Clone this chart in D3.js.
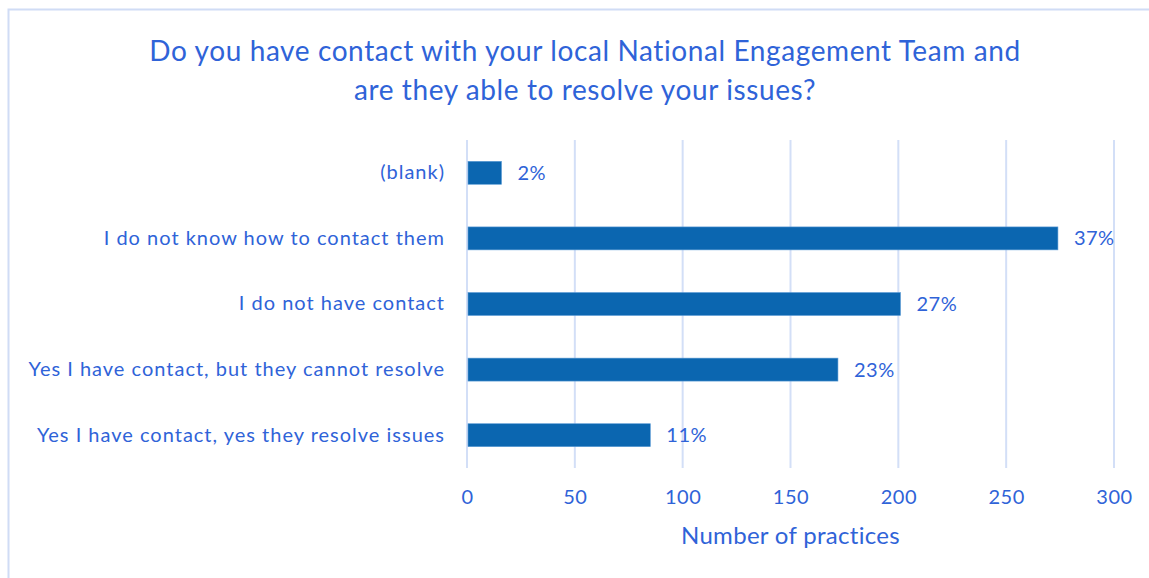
<!DOCTYPE html>
<html>
<head>
<meta charset="utf-8">
<script src="https://cdn.jsdelivr.net/npm/d3@7"></script>
<style>
  html, body { margin: 0; padding: 0; background: #fff; }
  svg { display: block; }
  text { font-family: Lato, "Open Sans", sans-serif; }
</style>
</head>
<body>
<svg id="chart" width="1149" height="578"></svg>
<script>
const categories = [
  "(blank)",
  "I do not know how to contact them",
  "I do not have contact",
  "Yes I have contact, but they cannot resolve",
  "Yes I have contact, yes they resolve issues"
];
const values = [16, 274, 201, 172, 85];
const percentLabels = ["2%", "37%", "27%", "23%", "11%"];
const xTicks = [0, 50, 100, 150, 200, 250, 300];
const titleLines = ["Do you have contact with your local National Engagement Team and", "are they able to resolve your issues?"];
const xAxisTitle = "Number of practices";

(function () {
const textColor = "#2F63D8";
const barColor = "#0B66B0";
const gridColor = "#D3DFF7";

const svg = d3.select("#chart");

// outer border
svg.append("rect")
  .attr("x", 8.5).attr("y", 9.5)
  .attr("width", 1160).attr("height", 600)
  .attr("fill", "none").attr("stroke", "#D0DCF5").attr("stroke-width", 2);

const pLeft = 467, pRight = 1114, pTop = 140, pBottom = 468;

const x = d3.scaleLinear().domain([0, 300]).range([pLeft, pRight]);
const y = d3.scaleBand().domain(categories).range([pTop, pBottom]).paddingInner(0.65).paddingOuter(0.325);

// title
svg.append("g").selectAll("text").data(titleLines).join("text")
  .attr("x", 585).attr("y", (d, i) => 61 + i * 39)
  .attr("text-anchor", "middle")
  .attr("fill", textColor)
  .attr("font-size", 28)
  .attr("letter-spacing", 0.6)
  .text(d => d);

// gridlines
svg.append("g").selectAll("line").data(xTicks).join("line")
  .attr("x1", d => x(d)).attr("x2", d => x(d))
  .attr("y1", pTop).attr("y2", pBottom)
  .attr("stroke", gridColor).attr("stroke-width", 2);

// bars
svg.append("g").selectAll("rect").data(values).join("rect")
  .attr("x", x(0) + 1)
  .attr("y", (d, i) => y(categories[i]))
  .attr("width", d => x(d) - x(0) - 1)
  .attr("height", y.bandwidth())
  .attr("fill", barColor)
  .attr("stroke", "#5B9BD5").attr("stroke-width", 0.6);

// data labels
svg.append("g").selectAll("text").data(values).join("text")
  .attr("x", d => x(d) + 16)
  .attr("y", (d, i) => y(categories[i]) + y.bandwidth() / 2)
  .attr("dy", "0.35em")
  .attr("fill", textColor)
  .attr("font-size", 20)
  .attr("letter-spacing", 0.5)
  .text((d, i) => percentLabels[i]);

// category axis
const yAxis = d3.axisLeft(y).tickSize(0).tickPadding(22);
const yg = svg.append("g").attr("transform", `translate(${pLeft},0)`).call(yAxis);
yg.select(".domain").remove();
yg.selectAll("text").attr("fill", textColor).attr("font-size", 20)
  .attr("letter-spacing", 1).attr("font-family", "Lato, sans-serif");

// x axis
const xAxis = d3.axisBottom(x).tickValues(xTicks).tickSize(0).tickPadding(22);
const xg = svg.append("g").attr("transform", `translate(0,${pBottom})`).call(xAxis);
xg.select(".domain").remove();
xg.selectAll("text").attr("fill", textColor).attr("font-size", 20)
  .attr("letter-spacing", 0.5).attr("font-family", "Lato, sans-serif");

// axis title
svg.append("text")
  .attr("x", (pLeft + pRight) / 2).attr("y", 544)
  .attr("text-anchor", "middle")
  .attr("fill", textColor)
  .attr("font-size", 24)
  .attr("letter-spacing", 0.3)
  .text(xAxisTitle);
})();
</script>
</body>
</html>
